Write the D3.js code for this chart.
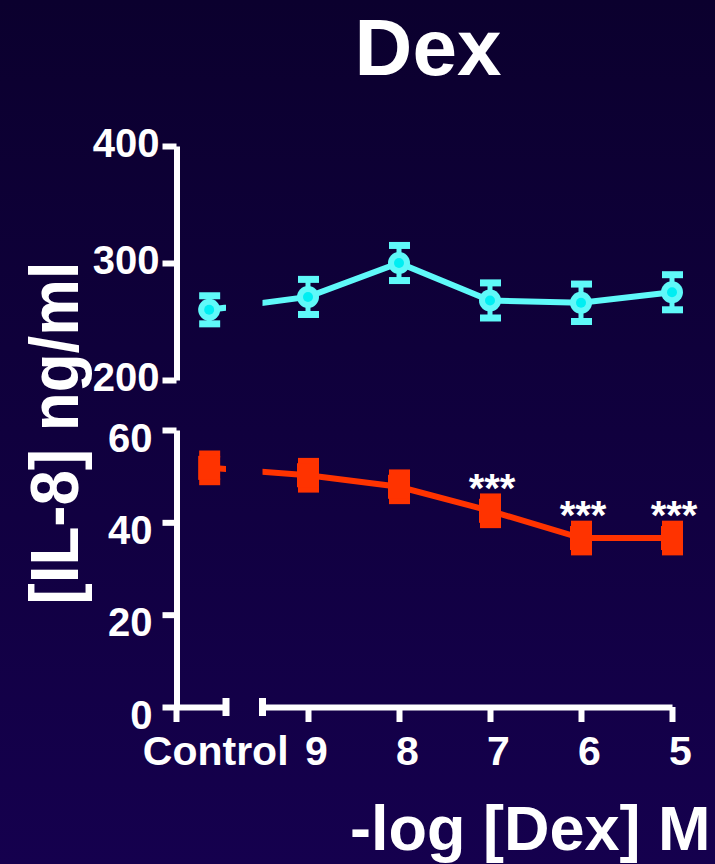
<!DOCTYPE html>
<html>
<head>
<meta charset="utf-8">
<script src="https://cdn.jsdelivr.net/npm/d3@7"></script>
<style>
  body { margin: 0; background: #0c0030; }
  svg { display: block; }
  text { font-family: "Liberation Sans", Arial, sans-serif; font-weight: bold; fill: #fff; }
</style>
</head>
<body>
<div id="content"></div>
<script>
const w = 715
const h = 864

// data
const groups = ["Control", "9", "8", "7", "6", "5"];
const doses = ["9", "8", "7", "6", "5"];
const upperMean = [260, 271, 300, 268, 266, 275];
const upperErr = [12, 15, 15, 15, 16, 15];
const lowerMean = [51.8, 50.2, 47.7, 42.5, 36.6, 36.6];
const lowerErr = [3, 3, 3, 3, 3, 3];
const stars = ["", "", "", "***", "***", "***"];
const upperTicks = [200, 300, 400];
const lowerTicks = [0, 20, 40, 60];

const cyan = "#5ff9f9"
const cyanDot = "#00eef2"
const red = "#ff3300"

let dataset = groups.map((g, i) => ({
  group: g,
  up: upperMean[i], upE: upperErr[i],
  lo: lowerMean[i], loE: lowerErr[i],
  star: stars[i]
}));

let svg = d3.select("#content")
  .append("svg")
  .attr("width", w)
  .attr("height", h)

let defs = svg.append("defs")
let grad = defs.append("linearGradient").attr("id", "bg")
  .attr("x1", 0).attr("y1", 0).attr("x2", 0).attr("y2", 1)
grad.append("stop").attr("offset", "0%").attr("stop-color", "#0b002e")
grad.append("stop").attr("offset", "100%").attr("stop-color", "#15004e")
svg.append("rect").attr("width", w).attr("height", h).attr("fill", "url(#bg)")

// scales
const axisX = 176.5
const axisY = 707
const xCtrl = d3.scalePoint().domain(["Control"]).range([axisX, 226]).align(0.66)
const xDose = d3.scalePoint().domain(doses).range([262.5, 672]).padding(0.25).align(1)
const xPos = (g) => g === "Control" ? xCtrl(g) : xDose(g)

const y1 = d3.scaleLinear().domain([200, 400]).range([380, 146])
const y2 = d3.scaleLinear().domain([0, 60]).range([axisY, 430])

// break in the line between control and the dose series
let clip = defs.append("clipPath").attr("id", "gap")
clip.append("rect").attr("x", 0).attr("y", 0).attr("width", xCtrl.range()[1]).attr("height", h)
clip.append("rect").attr("x", xDose.range()[0]).attr("y", 0).attr("width", w).attr("height", h)

function styleAxis(g) {
  g.select(".domain").attr("stroke", "#fff").attr("stroke-width", 6)
  g.selectAll(".tick line").attr("stroke", "#fff").attr("stroke-width", 6)
  g.selectAll("text").attr("fill", "#fff").style("font-size", "40px")
}

// y axes
let gy1 = svg.append("g").attr("transform", "translate(" + axisX + ",0)")
  .call(d3.axisLeft(y1).tickValues(upperTicks).tickSize(14).tickSizeOuter(0).tickPadding(3))
styleAxis(gy1)
gy1.selectAll("text").attr("dy", 10)

let gy2 = svg.append("g").attr("transform", "translate(" + axisX + ",0)")
  .call(d3.axisLeft(y2).tickValues(lowerTicks).tickSize(14).tickSizeOuter(0).tickPadding(10))
styleAxis(gy2)
gy2.selectAll("text").attr("dy", 21)

// y axis runs a bit below the x axis
svg.append("line")
  .attr("x1", axisX).attr("x2", axisX)
  .attr("y1", axisY).attr("y2", axisY + 15)
  .attr("stroke", "#fff").attr("stroke-width", 6)

// x axes (two pieces with a break)
let gx1 = svg.append("g").attr("transform", "translate(0," + axisY + ")")
  .call(d3.axisBottom(xCtrl).tickSize(0).tickSizeOuter(0))
styleAxis(gx1)
gx1.selectAll("text").attr("y", 58).attr("dy", 0).attr("dx", 6).style("font-size", "41px")

let gx2 = svg.append("g").attr("transform", "translate(0," + axisY + ")")
  .call(d3.axisBottom(xDose).tickSize(15).tickSizeOuter(0))
styleAxis(gx2)
gx2.selectAll("text").attr("y", 58).attr("dy", 0).attr("dx", 8).style("font-size", "41px")

// break caps
;[xCtrl.range()[1], xDose.range()[0]].forEach(x => {
  svg.append("line")
    .attr("x1", x).attr("x2", x)
    .attr("y1", axisY - 9).attr("y2", axisY + 9)
    .attr("stroke", "#fff").attr("stroke-width", 7)
})

function drawSeries(yScale, key, errKey, color, marker) {
  let line = d3.line().x(d => xPos(d.group)).y(d => yScale(d[key]))
  svg.append("path")
    .datum(dataset)
    .attr("d", line)
    .attr("clip-path", "url(#gap)")
    .attr("fill", "none")
    .attr("stroke", color)
    .attr("stroke-width", 6)

  let g = svg.append("g").selectAll("g")
    .data(dataset)
    .enter()
    .append("g")
    .attr("transform", d => "translate(" + xPos(d.group) + ",0)")

  g.append("line")
    .attr("y1", d => yScale(d[key] - d[errKey]))
    .attr("y2", d => yScale(d[key] + d[errKey]))
    .attr("stroke", color).attr("stroke-width", 5)
  g.append("rect")
    .attr("x", -10).attr("width", 21).attr("height", 7)
    .attr("y", d => yScale(d[key] + d[errKey]) - 3.5)
    .attr("fill", color)
  g.append("rect")
    .attr("x", -10).attr("width", 21).attr("height", 7)
    .attr("y", d => yScale(d[key] - d[errKey]) - 3.5)
    .attr("fill", color)

  marker(g)
}

drawSeries(y1, "up", "upE", cyan, g => {
  g.append("circle").attr("cy", d => y1(d.up)).attr("r", 11).attr("fill", cyan)
  g.append("circle").attr("cy", d => y1(d.up)).attr("r", 5).attr("fill", cyanDot)
})

drawSeries(y2, "lo", "loE", red, g => {
  g.append("rect")
    .attr("x", -11).attr("width", 22)
    .attr("y", d => y2(d.lo) - 12).attr("height", 24)
    .attr("fill", red)
})

// significance stars
svg.selectAll(".star")
  .data(dataset.filter(d => d.star))
  .enter()
  .append("text")
  .attr("class", "star")
  .attr("x", d => xPos(d.group) + 2)
  .attr("y", d => y2(d.lo) - 9)
  .attr("text-anchor", "middle")
  .style("font-size", "40px")
  .text(d => d.star)

// titles
svg.append("text")
  .attr("x", 428).attr("y", 75)
  .attr("text-anchor", "middle")
  .style("font-size", "80px")
  .text("Dex")

svg.append("text")
  .attr("x", 350).attr("y", 850)
  .style("font-size", "63px")
  .text("-log [Dex] M")

svg.append("text")
  .attr("transform", "translate(78,433) rotate(-90)")
  .attr("text-anchor", "middle")
  .attr("textLength", 343)
  .attr("lengthAdjust", "spacingAndGlyphs")
  .style("font-size", "68px")
  .text("[IL-8] ng/ml")
</script>
</body>
</html>
